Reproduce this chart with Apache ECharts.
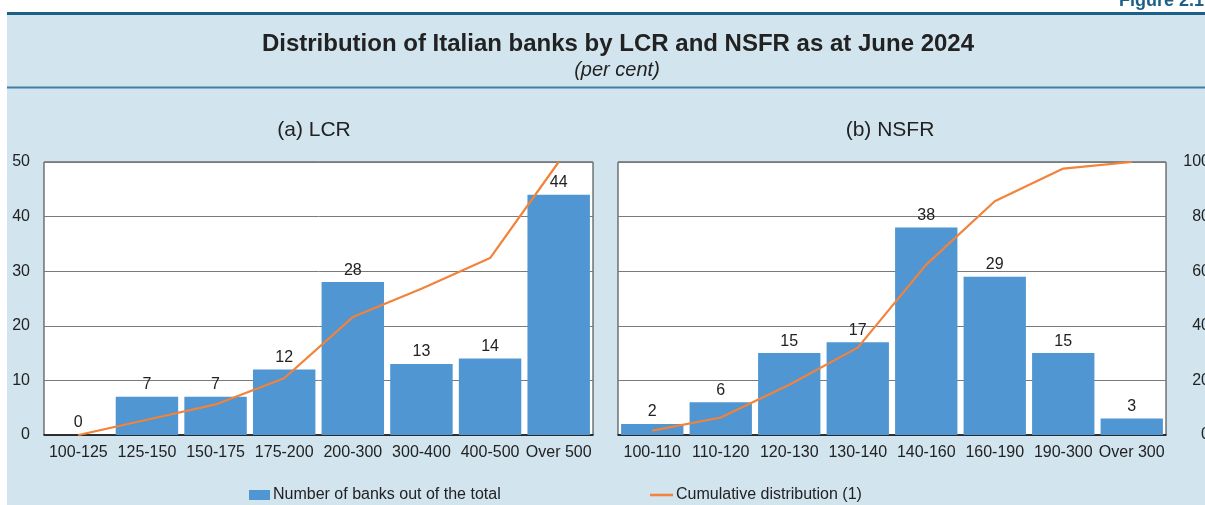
<!DOCTYPE html>
<html>
<head>
<meta charset="utf-8">
<script src="https://cdn.jsdelivr.net/npm/echarts@6/dist/echarts.min.js"></script>
<style>
html,body{margin:0;padding:0;background:#fff;}
#chart{width:1205px;height:505px;}
</style>
</head>
<body>
<div id="chart"></div>
<script>
const lcrCategories = ['100-125','125-150','150-175','175-200','200-300','300-400','400-500','Over 500'];
const lcrBanks = [0, 7, 7, 12, 28, 13, 14, 44];
const lcrCumulative = [0, 5.6, 11.2, 20.8, 43.2, 53.6, 64.8, 100];

const nsfrCategories = ['100-110','110-120','120-130','130-140','140-160','160-190','190-300','Over 300'];
const nsfrBanks = [2, 6, 15, 17, 38, 29, 15, 3];
const nsfrCumulative = [1.6, 6.4, 18.4, 32, 62.4, 85.6, 97.6, 100];

const FONT = '"Liberation Sans", Arial, Helvetica, sans-serif';
const BAR = '#4f96d2';
const LINE = '#f3823a';
const TXT = '#222';

const chart = echarts.init(document.getElementById('chart'), null, {renderer: 'canvas'});

function xAx(idx, cats) {
  return {
    type: 'category', gridIndex: idx, data: cats,
    axisLine: {show: true, lineStyle: {color: '#111', width: 1.5}},
    axisTick: {show: false},
    axisLabel: {color: TXT, fontSize: 16, fontFamily: FONT, margin: 10, interval: 0}
  };
}

const barLabel = {show: true, position: 'top', distance: 4, color: TXT, fontSize: 16, fontFamily: FONT};

const option = {
  backgroundColor: '#fff',
  animation: false,
  textStyle: {fontFamily: FONT},
  graphic: [
    {type: 'rect', shape: {x: 7, y: 14, width: 1198, height: 491}, style: {fill: '#d2e4ee'}, z: -10},
    {type: 'rect', shape: {x: 7, y: 12, width: 1198, height: 3}, style: {fill: '#1c5f87'}, z: -9},
    {type: 'rect', shape: {x: 7, y: 86.5, width: 1198, height: 2}, style: {fill: '#3f7fa8'}, z: -9},
    {type: 'text', x: 1204, y: 10, style: {text: 'Figure 2.1', font: 'bold 18px ' + FONT, fill: '#1c5f87', align: 'right', verticalAlign: 'bottom'}, z: 5}
  ],
  title: [
    {text: 'Distribution of Italian banks by LCR and NSFR as at June 2024', left: 613, top: 27, textAlign: 'center',
      textStyle: {fontSize: 24, fontWeight: 'bold', color: TXT, fontFamily: FONT}},
    {text: '(per cent)', left: 612, top: 55, textAlign: 'center',
      textStyle: {fontSize: 20, fontStyle: 'italic', fontWeight: 'normal', color: TXT, fontFamily: FONT}},
    {text: '(a) LCR', left: 309, top: 115, textAlign: 'center',
      textStyle: {fontSize: 21, fontWeight: 'normal', color: TXT, fontFamily: FONT}},
    {text: '(b) NSFR', left: 885, top: 115, textAlign: 'center',
      textStyle: {fontSize: 21, fontWeight: 'normal', color: TXT, fontFamily: FONT}}
  ],
  legend: [
    {data: [{name: 'Number of banks out of the total', icon: 'rect'}], left: 244, top: 482, itemWidth: 21, itemHeight: 10, itemGap: 5,
      textStyle: {fontSize: 16, color: TXT, fontFamily: FONT, padding: [0,0,0,-2]}},
    {data: [{name: 'Cumulative distribution (1)', icon: 'rect'}], left: 645, top: 482, itemWidth: 23, itemHeight: 2.5,
      textStyle: {fontSize: 16, color: TXT, fontFamily: FONT, padding: [0,0,0,-2]}}
  ],
  grid: [
    {left: 44, right: 612, top: 162, bottom: 70, show: true, backgroundColor: '#fff', borderColor: '#333', borderWidth: 1, outerBoundsMode: 'none', containLabel: false},
    {left: 618, right: 39, top: 162, bottom: 70, show: true, backgroundColor: '#fff', borderColor: '#333', borderWidth: 1, outerBoundsMode: 'none', containLabel: false}
  ],
  xAxis: [xAx(0, lcrCategories), xAx(1, nsfrCategories)],
  yAxis: [
    {type: 'value', gridIndex: 0, min: 0, max: 50, interval: 10, position: 'left',
      axisLine: {show: false}, axisTick: {show: false},
      axisLabel: {color: TXT, fontSize: 16, fontFamily: FONT, margin: 14},
      splitLine: {lineStyle: {color: '#7a7a7a', width: 1}}},
    {type: 'value', gridIndex: 0, min: 0, max: 100, interval: 20, position: 'right',
      axisLine: {show: false}, axisTick: {show: false}, axisLabel: {show: false}, splitLine: {show: false}},
    {type: 'value', gridIndex: 1, min: 0, max: 50, interval: 10, position: 'left',
      axisLine: {show: false}, axisTick: {show: false}, axisLabel: {show: false},
      splitLine: {lineStyle: {color: '#7a7a7a', width: 1}}},
    {type: 'value', gridIndex: 1, min: 0, max: 100, interval: 20, position: 'right',
      axisLine: {show: false}, axisTick: {show: false},
      axisLabel: {color: TXT, fontSize: 16, fontFamily: FONT, margin: 44, align: 'right'},
      splitLine: {show: false}}
  ],
  series: [
    {name: 'Number of banks out of the total', type: 'bar', xAxisIndex: 0, yAxisIndex: 0, data: lcrBanks,
      barCategoryGap: '9%', itemStyle: {color: BAR}, label: barLabel, z: 2},
    {name: 'Cumulative distribution (1)', type: 'line', xAxisIndex: 0, yAxisIndex: 1, data: lcrCumulative,
      symbol: 'none', showSymbol: false, lineStyle: {color: LINE, width: 2.2}, itemStyle: {color: LINE}, z: 3},
    {name: 'Number of banks out of the total', type: 'bar', xAxisIndex: 1, yAxisIndex: 2, data: nsfrBanks,
      barCategoryGap: '9%', itemStyle: {color: BAR}, label: barLabel, z: 2},
    {name: 'Cumulative distribution (1)', type: 'line', xAxisIndex: 1, yAxisIndex: 3, data: nsfrCumulative,
      symbol: 'none', showSymbol: false, lineStyle: {color: LINE, width: 2.2}, itemStyle: {color: LINE}, z: 3}
  ]
};
chart.setOption(option);
</script>
</body>
</html>
